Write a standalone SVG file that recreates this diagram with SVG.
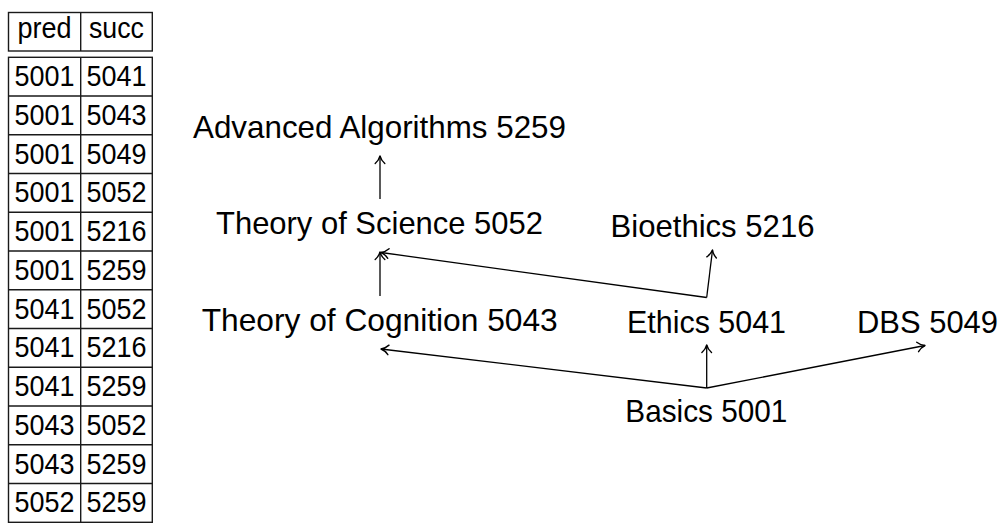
<svg xmlns="http://www.w3.org/2000/svg" width="1005" height="531" viewBox="0 0 1005 531">
<style>
  .bg { fill: #ffffff; }
  .grid { fill: none; stroke: #1a1a1a; stroke-width: 1.4; }
  .cell { font-family: "Liberation Sans", Arial, sans-serif; font-size: 29px; fill: #000; text-anchor: middle; }
  .lbl { font-family: "Liberation Sans", Arial, sans-serif; font-size: 31.5px; fill: #000; text-anchor: middle; }
  .edge { fill: none; stroke: #000; stroke-width: 1.3; marker-end: url(#arr); }
</style>
<defs>
  <marker id="arr" markerUnits="userSpaceOnUse" viewBox="-9 -6 10 12" refX="0" refY="0" markerWidth="10" markerHeight="12" orient="auto">
    <path d="M-7.5,-4.8 C-5,-2 -2,-0.5 0,0 C-2,0.5 -5,2 -7.5,4.8" fill="none" stroke="#000" stroke-width="1.4" stroke-linecap="round" stroke-linejoin="round"/>
  </marker>
</defs>
<rect class="bg" x="0" y="0" width="1005" height="531"/>

<g id="table">
  <rect class="grid" x="8.5" y="12.5" width="143.8" height="38.5"/>
  <line class="grid" x1="80.7" y1="12.5" x2="80.7" y2="51"/>
  <text class="cell" x="44.6" y="38" textLength="54" lengthAdjust="spacingAndGlyphs">pred</text>
  <text class="cell" x="116.5" y="38" textLength="55" lengthAdjust="spacingAndGlyphs">succ</text>
  <rect class="grid" x="8.5" y="57.3" width="143.8" height="465"/>
  <line class="grid" x1="80.7" y1="57.3" x2="80.7" y2="522.3"/>
  <path class="grid" d="M8.5,96.05H152.3M8.5,134.8H152.3M8.5,173.55H152.3M8.5,212.3H152.3M8.5,251.05H152.3M8.5,289.8H152.3M8.5,328.55H152.3M8.5,367.3H152.3M8.5,406.05H152.3M8.5,444.8H152.3M8.5,483.55H152.3"/>
  <g>
    <text class="cell" x="44.6" y="86" textLength="60" lengthAdjust="spacingAndGlyphs">5001</text><text class="cell" x="116.5" y="86" textLength="60" lengthAdjust="spacingAndGlyphs">5041</text>
    <text class="cell" x="44.6" y="124.75" textLength="60" lengthAdjust="spacingAndGlyphs">5001</text><text class="cell" x="116.5" y="124.75" textLength="60" lengthAdjust="spacingAndGlyphs">5043</text>
    <text class="cell" x="44.6" y="163.5" textLength="60" lengthAdjust="spacingAndGlyphs">5001</text><text class="cell" x="116.5" y="163.5" textLength="60" lengthAdjust="spacingAndGlyphs">5049</text>
    <text class="cell" x="44.6" y="202.25" textLength="60" lengthAdjust="spacingAndGlyphs">5001</text><text class="cell" x="116.5" y="202.25" textLength="60" lengthAdjust="spacingAndGlyphs">5052</text>
    <text class="cell" x="44.6" y="241" textLength="60" lengthAdjust="spacingAndGlyphs">5001</text><text class="cell" x="116.5" y="241" textLength="60" lengthAdjust="spacingAndGlyphs">5216</text>
    <text class="cell" x="44.6" y="279.75" textLength="60" lengthAdjust="spacingAndGlyphs">5001</text><text class="cell" x="116.5" y="279.75" textLength="60" lengthAdjust="spacingAndGlyphs">5259</text>
    <text class="cell" x="44.6" y="318.5" textLength="60" lengthAdjust="spacingAndGlyphs">5041</text><text class="cell" x="116.5" y="318.5" textLength="60" lengthAdjust="spacingAndGlyphs">5052</text>
    <text class="cell" x="44.6" y="357.25" textLength="60" lengthAdjust="spacingAndGlyphs">5041</text><text class="cell" x="116.5" y="357.25" textLength="60" lengthAdjust="spacingAndGlyphs">5216</text>
    <text class="cell" x="44.6" y="396" textLength="60" lengthAdjust="spacingAndGlyphs">5041</text><text class="cell" x="116.5" y="396" textLength="60" lengthAdjust="spacingAndGlyphs">5259</text>
    <text class="cell" x="44.6" y="434.75" textLength="60" lengthAdjust="spacingAndGlyphs">5043</text><text class="cell" x="116.5" y="434.75" textLength="60" lengthAdjust="spacingAndGlyphs">5052</text>
    <text class="cell" x="44.6" y="473.5" textLength="60" lengthAdjust="spacingAndGlyphs">5043</text><text class="cell" x="116.5" y="473.5" textLength="60" lengthAdjust="spacingAndGlyphs">5259</text>
    <text class="cell" x="44.6" y="512.25" textLength="60" lengthAdjust="spacingAndGlyphs">5052</text><text class="cell" x="116.5" y="512.25" textLength="60" lengthAdjust="spacingAndGlyphs">5259</text>
  </g>
</g>

<g id="connectors">
  <line class="edge" x1="380" y1="199" x2="380" y2="156"/>
  <line class="edge" x1="380" y1="296" x2="380" y2="252"/>
  <line class="edge" x1="706.7" y1="297.5" x2="381" y2="252.5"/>
  <line class="edge" x1="706.7" y1="297.5" x2="712.5" y2="250"/>
  <line class="edge" x1="706.7" y1="388" x2="706.7" y2="345"/>
  <line class="edge" x1="706.7" y1="388" x2="381" y2="349"/>
  <line class="edge" x1="706.7" y1="388" x2="925" y2="345.5"/>
</g>

<g id="n5259"><text class="lbl" x="379.5" y="137.5" textLength="373" lengthAdjust="spacingAndGlyphs">Advanced Algorithms 5259</text></g>
<g id="n5052"><text class="lbl" x="379.5" y="233.5" textLength="327" lengthAdjust="spacingAndGlyphs">Theory of Science 5052</text></g>
<g id="n5216"><text class="lbl" x="712.5" y="237" textLength="204" lengthAdjust="spacingAndGlyphs">Bioethics 5216</text></g>
<g id="n5043"><text class="lbl" x="379.7" y="330.5" textLength="356" lengthAdjust="spacingAndGlyphs">Theory of Cognition 5043</text></g>
<g id="n5041"><text class="lbl" x="706.5" y="333" textLength="159" lengthAdjust="spacingAndGlyphs">Ethics 5041</text></g>
<g id="n5049"><text class="lbl" x="927.5" y="333" textLength="141" lengthAdjust="spacingAndGlyphs">DBS 5049</text></g>
<g id="n5001"><text class="lbl" x="706.3" y="421.7" textLength="162" lengthAdjust="spacingAndGlyphs">Basics 5001</text></g>
</svg>
